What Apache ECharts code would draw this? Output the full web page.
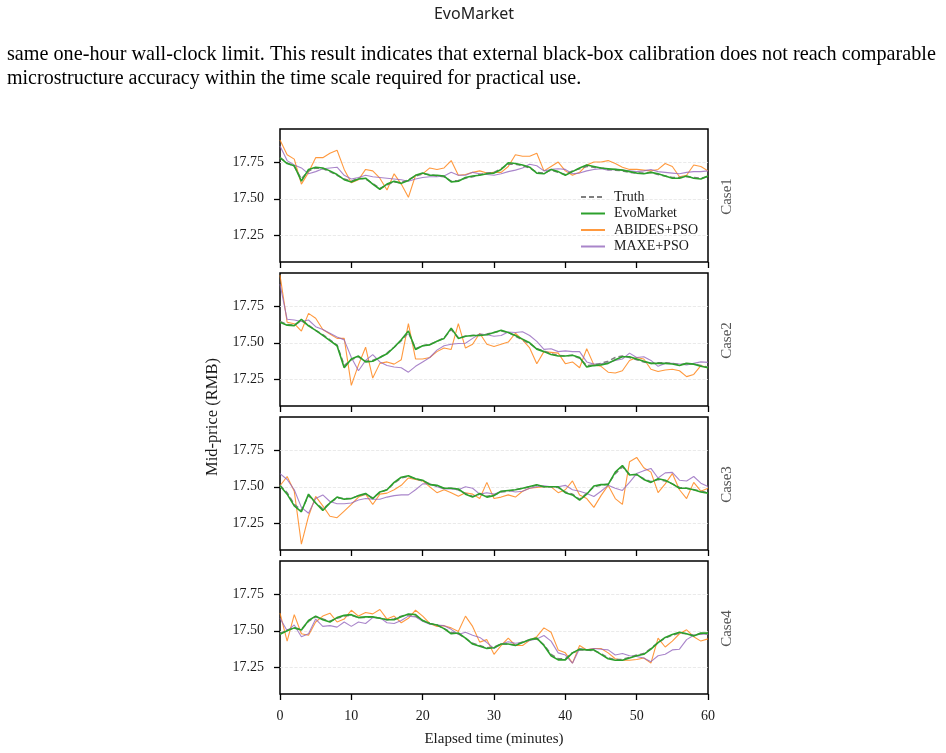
<!DOCTYPE html>
<html>
<head>
<meta charset="utf-8">
<script src="https://cdn.jsdelivr.net/npm/echarts@6/dist/echarts.min.js"></script>
<style>
  html, body { margin: 0; padding: 0; background: #fff; }
  #container { width: 946px; height: 753px; }
</style>
</head>
<body>
<div id="container"></div>
<script>
// elapsed minutes, one sample per minute
var minutes = [0,1,2,3,4,5,6,7,8,9,10,11,12,13,14,15,16,17,18,19,20,
  21,22,23,24,25,26,27,28,29,30,31,32,33,34,35,36,37,38,39,40,
  41,42,43,44,45,46,47,48,49,50,51,52,53,54,55,56,57,58,59,60];
var yTicks = [17.25, 17.5, 17.75];
var caseNames = ['Case1', 'Case2', 'Case3', 'Case4'];
var seriesNames = ['Truth', 'EvoMarket', 'ABIDES+PSO', 'MAXE+PSO'];

// Case1
var truth1 = [17.78,17.745,17.72,17.635,17.69,17.71,17.705,17.685,17.66,17.635,
  17.62,17.64,17.635,17.605,17.57,17.595,17.615,17.61,17.63,17.655,
  17.67,17.665,17.655,17.65,17.62,17.625,17.64,17.65,17.665,17.675,
  17.68,17.705,17.735,17.735,17.725,17.71,17.68,17.675,17.695,17.68,
  17.665,17.69,17.705,17.72,17.715,17.71,17.70,17.695,17.69,17.68,
  17.675,17.675,17.68,17.665,17.655,17.645,17.645,17.65,17.645,17.64,
  17.65];
var evo1 = [17.78,17.74,17.725,17.62,17.70,17.715,17.71,17.69,17.665,17.63,
  17.615,17.635,17.64,17.60,17.565,17.60,17.62,17.605,17.625,17.66,
  17.675,17.66,17.66,17.655,17.615,17.62,17.645,17.655,17.66,17.67,
  17.675,17.70,17.745,17.74,17.73,17.715,17.675,17.67,17.70,17.685,
  17.66,17.685,17.71,17.73,17.72,17.71,17.705,17.70,17.695,17.685,
  17.675,17.67,17.68,17.67,17.655,17.64,17.64,17.655,17.64,17.635,
  17.655];
var abides1 = [17.90,17.80,17.77,17.60,17.68,17.78,17.78,17.81,17.83,17.70,
  17.61,17.63,17.70,17.69,17.64,17.56,17.67,17.60,17.51,17.66,
  17.67,17.71,17.70,17.71,17.76,17.66,17.665,17.68,17.69,17.675,
  17.68,17.68,17.72,17.80,17.79,17.79,17.81,17.69,17.72,17.75,
  17.69,17.66,17.68,17.73,17.75,17.75,17.76,17.74,17.715,17.70,
  17.70,17.695,17.69,17.70,17.74,17.72,17.65,17.66,17.73,17.72,
  17.69];
var maxe1 = [17.86,17.76,17.73,17.71,17.67,17.685,17.705,17.71,17.715,17.66,
  17.635,17.645,17.66,17.65,17.645,17.64,17.635,17.63,17.62,17.635,
  17.645,17.65,17.65,17.655,17.68,17.66,17.66,17.68,17.67,17.665,
  17.66,17.67,17.685,17.695,17.71,17.735,17.725,17.69,17.70,17.705,
  17.70,17.67,17.675,17.69,17.70,17.705,17.695,17.70,17.695,17.69,
  17.685,17.69,17.70,17.685,17.68,17.675,17.67,17.68,17.685,17.685,
  17.69];

// Case2
var truth2 = [17.645,17.625,17.62,17.65,17.62,17.585,17.555,17.52,17.485,17.345,
  17.385,17.405,17.375,17.38,17.40,17.43,17.47,17.515,17.57,17.46,
  17.48,17.49,17.51,17.535,17.59,17.535,17.545,17.55,17.555,17.56,
  17.57,17.58,17.57,17.545,17.52,17.495,17.46,17.445,17.425,17.415,
  17.41,17.415,17.395,17.345,17.35,17.36,17.375,17.40,17.41,17.40,
  17.385,17.37,17.36,17.365,17.365,17.36,17.35,17.36,17.355,17.345,
  17.335];
var evo2 = [17.64,17.62,17.617,17.66,17.615,17.585,17.55,17.515,17.48,17.33,
  17.39,17.41,17.37,17.375,17.40,17.425,17.47,17.52,17.58,17.455,
  17.48,17.486,17.51,17.53,17.60,17.53,17.545,17.55,17.55,17.555,
  17.57,17.585,17.57,17.55,17.525,17.50,17.457,17.44,17.42,17.41,
  17.41,17.415,17.40,17.336,17.345,17.35,17.36,17.385,17.405,17.405,
  17.39,17.374,17.36,17.36,17.36,17.356,17.345,17.36,17.355,17.34,
  17.33];
var abides2 = [17.96,17.64,17.63,17.58,17.70,17.667,17.59,17.56,17.53,17.53,
  17.21,17.35,17.47,17.26,17.36,17.37,17.355,17.385,17.63,17.39,
  17.39,17.40,17.44,17.465,17.455,17.63,17.464,17.49,17.565,17.49,
  17.475,17.49,17.505,17.565,17.52,17.465,17.358,17.44,17.435,17.43,
  17.358,17.37,17.33,17.46,17.35,17.34,17.30,17.295,17.31,17.38,
  17.40,17.39,17.32,17.305,17.315,17.32,17.31,17.27,17.285,17.345,
  17.33];
var maxe2 = [17.90,17.66,17.655,17.645,17.655,17.61,17.59,17.565,17.54,17.52,
  17.40,17.31,17.38,17.42,17.37,17.345,17.335,17.33,17.30,17.34,
  17.37,17.40,17.45,17.48,17.49,17.495,17.497,17.53,17.56,17.555,
  17.545,17.55,17.574,17.57,17.575,17.55,17.51,17.455,17.46,17.44,
  17.445,17.44,17.44,17.37,17.355,17.358,17.365,17.38,17.39,17.43,
  17.40,17.405,17.38,17.34,17.36,17.36,17.356,17.35,17.36,17.37,
  17.367];

// Case3
var truth3 = [17.51,17.46,17.38,17.34,17.44,17.39,17.35,17.39,17.425,17.42,
  17.42,17.44,17.45,17.425,17.46,17.48,17.525,17.56,17.57,17.555,
  17.54,17.52,17.505,17.49,17.49,17.48,17.455,17.435,17.45,17.435,
  17.445,17.465,17.47,17.48,17.49,17.50,17.51,17.50,17.50,17.495,
  17.465,17.45,17.415,17.455,17.50,17.51,17.52,17.59,17.635,17.585,
  17.58,17.555,17.535,17.55,17.54,17.52,17.495,17.49,17.48,17.47,
  17.46];
var evo3 = [17.507,17.45,17.37,17.33,17.45,17.39,17.34,17.39,17.43,17.416,
  17.42,17.44,17.455,17.42,17.465,17.48,17.53,17.565,17.575,17.555,
  17.545,17.515,17.51,17.49,17.49,17.485,17.45,17.43,17.455,17.43,
  17.44,17.47,17.475,17.48,17.49,17.502,17.514,17.50,17.50,17.50,
  17.46,17.445,17.41,17.45,17.505,17.515,17.515,17.60,17.645,17.58,
  17.585,17.55,17.53,17.555,17.545,17.52,17.49,17.49,17.48,17.465,
  17.457];
var abides3 = [17.507,17.57,17.47,17.11,17.30,17.435,17.37,17.30,17.29,17.335,
  17.38,17.43,17.45,17.38,17.45,17.457,17.48,17.51,17.56,17.55,
  17.54,17.50,17.46,17.48,17.46,17.435,17.46,17.45,17.42,17.53,
  17.42,17.43,17.445,17.43,17.47,17.49,17.495,17.50,17.50,17.46,
  17.48,17.54,17.445,17.42,17.36,17.44,17.51,17.42,17.38,17.67,
  17.70,17.63,17.60,17.46,17.52,17.59,17.48,17.42,17.53,17.47,
  17.49];
var maxe3 = [17.59,17.55,17.48,17.36,17.32,17.42,17.445,17.40,17.385,17.385,
  17.39,17.41,17.42,17.416,17.415,17.43,17.44,17.445,17.445,17.48,
  17.52,17.52,17.50,17.485,17.485,17.48,17.50,17.49,17.45,17.46,
  17.45,17.47,17.475,17.465,17.47,17.49,17.50,17.507,17.50,17.50,
  17.51,17.48,17.47,17.455,17.434,17.47,17.51,17.49,17.475,17.53,
  17.59,17.61,17.625,17.56,17.595,17.598,17.545,17.54,17.57,17.525,
  17.502];

// Case4
var truth4 = [17.48,17.505,17.52,17.51,17.565,17.595,17.58,17.565,17.585,17.60,
  17.605,17.59,17.59,17.595,17.585,17.575,17.58,17.60,17.61,17.60,
  17.57,17.55,17.54,17.515,17.49,17.48,17.45,17.415,17.40,17.385,
  17.39,17.41,17.41,17.405,17.425,17.44,17.445,17.405,17.34,17.31,
  17.31,17.35,17.37,17.37,17.365,17.345,17.315,17.305,17.305,17.32,
  17.335,17.345,17.38,17.42,17.45,17.47,17.485,17.48,17.47,17.48,
  17.48];
var evo4 = [17.477,17.50,17.52,17.505,17.57,17.60,17.575,17.56,17.59,17.605,
  17.61,17.59,17.595,17.595,17.585,17.575,17.575,17.595,17.614,17.61,
  17.57,17.55,17.54,17.515,17.48,17.485,17.45,17.41,17.395,17.38,
  17.385,17.41,17.41,17.40,17.42,17.44,17.45,17.40,17.33,17.302,
  17.302,17.35,17.375,17.37,17.37,17.34,17.31,17.30,17.30,17.315,
  17.33,17.34,17.375,17.42,17.455,17.475,17.49,17.48,17.465,17.485,
  17.484];
var abides4 = [17.62,17.43,17.61,17.48,17.47,17.56,17.60,17.62,17.56,17.58,
  17.64,17.60,17.625,17.615,17.645,17.58,17.60,17.555,17.585,17.64,
  17.60,17.55,17.53,17.535,17.52,17.495,17.60,17.53,17.423,17.44,
  17.34,17.40,17.45,17.40,17.40,17.435,17.46,17.52,17.49,17.37,
  17.35,17.28,17.40,17.37,17.38,17.38,17.35,17.31,17.30,17.30,
  17.305,17.315,17.28,17.45,17.39,17.43,17.48,17.507,17.46,17.43,
  17.445];
var maxe4 = [17.586,17.50,17.54,17.46,17.48,17.58,17.53,17.535,17.525,17.56,
  17.53,17.56,17.55,17.59,17.59,17.555,17.55,17.57,17.60,17.595,
  17.565,17.545,17.54,17.535,17.51,17.475,17.49,17.47,17.455,17.42,
  17.38,17.41,17.425,17.415,17.42,17.435,17.445,17.468,17.43,17.35,
  17.335,17.28,17.38,17.37,17.38,17.375,17.37,17.335,17.345,17.33,
  17.325,17.315,17.29,17.33,17.34,17.37,17.375,17.44,17.47,17.477,
  17.477];

var panels = [
  [truth1, evo1, abides1, maxe1],
  [truth2, evo2, abides2, maxe2],
  [truth3, evo3, abides3, maxe3],
  [truth4, evo4, abides4, maxe4]
];

var dom = document.getElementById('container');
var myChart = echarts.init(dom, null, { renderer: 'canvas' });

var serif = '"Liberation Serif", "DejaVu Serif", serif';
var gridTops = [129, 273, 417, 561];
var gridH = 133;

function pairs(vals) {
  return minutes.map(function (t, k) { return [t, vals[k]]; });
}

// line looks per series: colour, width, dash, z
var looks = [
  { color: '#7f7f7f', width: 1.5, type: [5, 3], opacity: 1, z: 4 },
  { color: '#2ca02c', width: 1.6, type: 'solid', opacity: 1, z: 5 },
  { color: '#ff7f0e', width: 1.1, type: 'solid', opacity: 0.8, z: 2 },
  { color: '#9467bd', width: 1.1, type: 'solid', opacity: 0.8, z: 3 }
];

var grids = [], xAxes = [], yAxes = [], series = [], graphics = [];

gridTops.forEach(function (top, i) {
  grids.push({
    left: 280, width: 428, top: top, height: gridH,
    show: true, borderColor: '#000', borderWidth: 1.5, backgroundColor: 'transparent'
  });
  xAxes.push({
    gridIndex: i, type: 'value', min: 0, max: 60, interval: 10,
    axisLine: { show: false },
    axisTick: { show: true, length: 6, lineStyle: { color: '#000', width: 1.3 } },
    axisLabel: { show: i === 3, margin: 15, fontFamily: serif, fontSize: 14, color: '#1a1a1a' },
    splitLine: { show: false },
    name: i === 3 ? 'Elapsed time (minutes)' : '',
    nameLocation: 'middle', nameGap: 38,
    nameTextStyle: { fontFamily: serif, fontSize: 15, color: '#1a1a1a' }
  });
  yAxes.push({
    gridIndex: i, type: 'value', min: 17.07, max: 17.975,
    axisLine: { show: false },
    axisTick: { show: true, length: 6, customValues: yTicks, lineStyle: { color: '#000', width: 1.3 } },
    axisLabel: {
      customValues: yTicks, margin: 16, fontFamily: serif, fontSize: 14, color: '#1a1a1a',
      formatter: function (v) { return v.toFixed(2); }
    },
    splitLine: { show: true, lineStyle: { color: '#e4e4e4', type: 'dashed', width: 0.8 } }
  });
  panels[i].forEach(function (vals, s) {
    var lk = looks[s];
    series.push({
      name: seriesNames[s], type: 'line', xAxisIndex: i, yAxisIndex: i,
      data: pairs(vals), symbol: 'none', z: lk.z, silent: true,
      lineStyle: { color: lk.color, width: lk.width, type: lk.type, opacity: lk.opacity },
      itemStyle: { color: lk.color }
    });
  });
  graphics.push({
    type: 'text', x: 727, y: top + gridH / 2 + 1, rotation: Math.PI / 2,
    style: { text: caseNames[i], font: '15px ' + serif, fill: '#555', textAlign: 'center', textVerticalAlign: 'middle' }
  });
});

// page text around the figure
graphics.push({
  type: 'text', x: 474, y: 14,
  style: { text: 'EvoMarket', font: '16px "Noto Sans", sans-serif', fill: '#222', textAlign: 'center', textVerticalAlign: 'middle' }
});
graphics.push({
  type: 'text', x: 7, y: 55,
  style: { text: 'same one-hour wall-clock limit. This result indicates that external black-box calibration does not reach comparable', font: '20.2px ' + serif, fill: '#000', textAlign: 'left', textVerticalAlign: 'middle' }
});
graphics.push({
  type: 'text', x: 7, y: 79,
  style: { text: 'microstructure accuracy within the time scale required for practical use.', font: '20px ' + serif, fill: '#000', textAlign: 'left', textVerticalAlign: 'middle' }
});
graphics.push({
  type: 'text', x: 213, y: 417, rotation: Math.PI / 2,
  style: { text: 'Mid-price (RMB)', font: '16.5px ' + serif, fill: '#1a1a1a', textAlign: 'center', textVerticalAlign: 'middle' }
});

option = {
  backgroundColor: '#fff',
  animation: false,
  legend: {
    data: seriesNames,
    orient: 'vertical', left: 575, top: 185,
    itemWidth: 24, itemHeight: 14, itemGap: 2.5,
    itemStyle: { opacity: 0 },
    textStyle: { fontFamily: serif, fontSize: 14, color: '#1a1a1a', padding: [0, 0, 0, 4] }
  },
  grid: grids,
  xAxis: xAxes,
  yAxis: yAxes,
  series: series,
  graphic: graphics
};

myChart.setOption(option, true);
</script>
</body>
</html>
